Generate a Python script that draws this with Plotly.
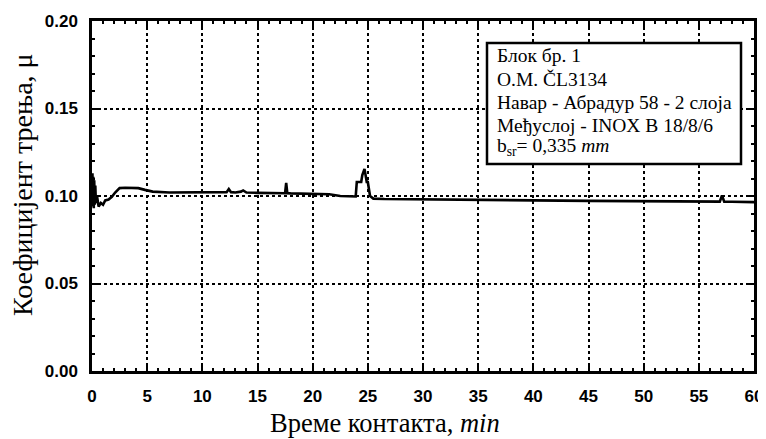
import plotly.graph_objects as go

time_min = [0, 0.04, 0.08, 0.12, 0.16, 0.2, 0.25, 0.3, 0.35, 0.45, 0.6, 0.8, 1.0, 1.2, 1.5, 1.8,
            2.1, 2.5, 3.0, 3.5, 4.2, 4.8, 5.5, 7, 9, 11, 12.2, 12.4, 12.6, 13.0, 13.5, 13.7,
            14, 15, 16, 17.5, 17.6, 17.7, 18, 20, 21.5, 22.5, 23.5, 23.9, 24.0, 24.4, 24.5,
            24.7, 24.9, 25.0, 25.2, 25.5, 26.5, 30, 35, 40, 45, 50, 55, 56.9, 57.1, 57.3, 58, 60]
mu = [0.098, 0.113, 0.094, 0.111, 0.093, 0.109, 0.095, 0.106, 0.096, 0.100, 0.094, 0.096,
      0.095, 0.0975, 0.098, 0.0995, 0.102, 0.1045, 0.1047, 0.1046, 0.1045, 0.1035, 0.1025,
      0.102, 0.1021, 0.102, 0.1022, 0.104, 0.1022, 0.102, 0.1025, 0.1032, 0.102, 0.1018,
      0.1016, 0.1016, 0.1075, 0.1016, 0.1015, 0.1013, 0.101, 0.1, 0.0996, 0.0997, 0.108,
      0.108, 0.112, 0.1155, 0.108, 0.108, 0.1, 0.0985, 0.0983, 0.0982, 0.0978, 0.0975,
      0.0972, 0.097, 0.0968, 0.0968, 0.1003, 0.0968, 0.0967, 0.0965]

x_ticks = list(range(0, 61, 5))
y_ticks = [0.0, 0.05, 0.10, 0.15, 0.20]
y_tick_labels = ["0.00", "0.05", "0.10", "0.15", "0.20"]

x_title = "Време контакта, <i>min</i>"
y_title = "Коефицијент трења, μ"
info_lines = ["Блок бр. 1", "O.M. ČL3134", "Навар - Абрадур 58 - 2 слоја",
              "Међуслој - INOX B 18/8/6", "b<sub>sr</sub>= 0,335 <i>mm</i>"]

# page has an 8px body margin; plot area in page pixels: x 92..754, y 21..371
PX0, PX1, PY0, PY1 = 92, 754, 21, 371
def px(x):
    return (x - PX0) / (PX1 - PX0)
def py(y):
    return (PY1 - y) / (PY1 - PY0)

fig = go.Figure()
fig.add_trace(go.Scatter(x=time_min, y=mu, mode="lines",
                         line=dict(color="black", width=2.6), showlegend=False))

tickfont = dict(family="Liberation Sans", size=17, color="black", weight="bold")
common = dict(showgrid=True, gridcolor="black", griddash="dot", gridwidth=2,
              showline=True, linecolor="black", linewidth=2.5, mirror="ticks",
              ticks="inside", ticklen=6, tickwidth=1.5, tickcolor="black",
              tickfont=tickfont, zeroline=False, automargin=False)
fig.update_xaxes(range=[0, 60], tickvals=x_ticks, ticktext=[str(v) for v in x_ticks],
                 minor=dict(dtick=1, ticks="inside", ticklen=3, tickwidth=1.5, tickcolor="black", showgrid=False),
                 ticklabelstandoff=8, **common)
fig.update_yaxes(range=[0, 0.2], tickvals=y_ticks, ticktext=y_tick_labels,
                 minor=dict(dtick=0.01, ticks="inside", ticklen=3, tickwidth=1.5, tickcolor="black", showgrid=False),
                 ticklabelstandoff=8, **common)

fig.add_shape(type="rect", xref="paper", yref="paper", x0=px(487), x1=px(741), y0=py(164), y1=py(43),
              line=dict(color="black", width=2.5), fillcolor="white", layer="above")
baselines = [62, 85, 108, 131, 153]
for line, base in zip(info_lines, baselines):
    fig.add_annotation(xref="paper", yref="paper", x=px(495), y=py(base - 6), xanchor="left",
                       yanchor="middle", text=line, showarrow=False, align="left",
                       font=dict(family="Liberation Serif", size=19.5, color="black"))

fig.add_annotation(xref="paper", yref="paper", x=px(385), y=py(423),
                   xanchor="center", yanchor="middle", text=x_title, showarrow=False,
                   font=dict(family="Liberation Serif", size=26.5, color="black"))
fig.add_annotation(xref="paper", yref="paper", x=px(23), y=py(185),
                   xanchor="center", yanchor="middle", text=y_title, showarrow=False, textangle=-90,
                   font=dict(family="Liberation Serif", size=28, color="black"))

fig.update_layout(width=758, height=431, margin=dict(l=PX0 - 8, r=766 - PX1, t=PY0 - 8, b=439 - PY1),
                  plot_bgcolor="white", paper_bgcolor="white")
fig.write_html("out.html")
